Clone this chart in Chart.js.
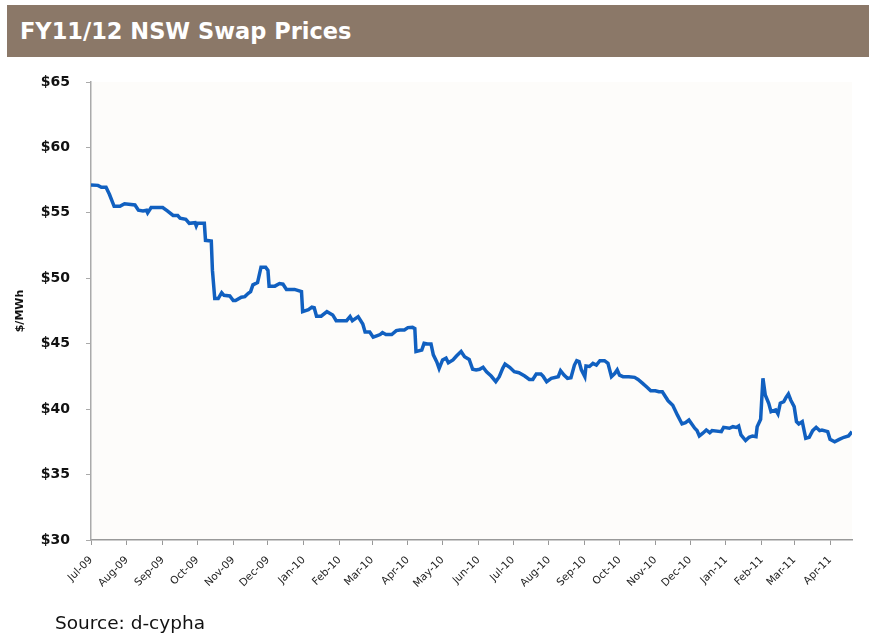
<!DOCTYPE html>
<html>
<head>
<meta charset="utf-8">
<title>FY11/12 NSW Swap Prices</title>
<script src="https://cdn.jsdelivr.net/npm/chart.js@4/dist/chart.umd.min.js"></script>
<style>
    body { margin: 0; background: #fff; }
    #wrap { position: relative; width: 869px; height: 636px; overflow: hidden; }
    #chartBox { position: absolute; left: 0; top: 0; width: 869px; height: 636px; }
    .header {
        position: absolute; left: 7px; top: 5px; width: 862px; height: 52px;
        background: rgb(139, 120, 104);
    }
    .header h1 {
        margin: 0; position: absolute; left: 13px; top: 13px;
        font: bold 22.5px "DejaVu Sans", Verdana, sans-serif; color: #fff;
    }
    .source {
        position: absolute; left: 55px; top: 612px;
        font: 18.5px "DejaVu Sans", Verdana, sans-serif; color: #111;
    }
</style>
</head>
<body>
<div id="wrap">
    <div id="chartBox"><canvas id="swapChart"></canvas></div>
    <div class="header"><h1>FY11/12 NSW Swap Prices</h1></div>
    <div class="source">Source: d-cypha</div>
</div>
<script>
// Days since 1 Jul 2009 and price in $/MWh
const days = [
    0, 6, 9, 13, 16, 20, 25, 29, 38, 41, 45, 48, 49, 52, 62, 66, 71, 75, 77, 82,
    85, 90, 91, 92, 98, 99, 104, 105, 107, 110, 113, 115, 120, 123, 125, 130, 133, 136, 138, 140,
    144, 147, 151, 153, 154, 159, 163, 166, 169, 176, 182, 183, 188, 191, 193, 195, 199, 204, 206, 209,
    212, 221, 224, 226, 231, 235, 237, 241, 244, 247, 250, 252, 255, 260, 264, 267, 271, 274, 278, 280,
    281, 286, 288, 291, 294, 296, 299, 301, 304, 307, 309, 313, 316, 320, 323, 327, 330, 333, 336, 339,
    342, 346, 350, 353, 356, 358, 362, 366, 370, 375, 379, 382, 385, 389, 391, 394, 398, 404, 406, 409,
    412, 415, 418, 420, 422, 424, 427, 428, 431, 434, 437, 440, 444, 447, 450, 453, 455, 457, 460, 465,
    470, 473, 477, 481, 484, 488, 491, 494, 499, 503, 507, 511, 514, 517, 519, 522, 524, 526, 529, 532,
    535, 537, 545, 547, 552, 555, 558, 560, 562, 566, 569, 572, 575, 576, 579, 581, 583, 586, 588, 592,
    594, 596, 599, 601, 603, 605, 608, 610, 612, 615, 618, 621, 624, 627, 630, 632, 637, 639, 643, 647,
    651, 655, 658
];
const prices = [
    57.13, 57.1, 56.95, 56.95, 56.4, 55.5, 55.5, 55.7, 55.6, 55.2, 55.15, 55.2, 55.0, 55.4, 55.4, 55.15, 54.8, 54.8, 54.6, 54.5,
    54.2, 54.25, 54.0, 54.2, 54.2, 52.9, 52.85, 50.6, 48.45, 48.45, 48.9, 48.7, 48.65, 48.3, 48.3, 48.55, 48.6, 48.85, 48.98, 49.5,
    49.67, 50.85, 50.85, 50.6, 49.4, 49.4, 49.6, 49.55, 49.15, 49.15, 48.98, 47.45, 47.6, 47.8, 47.75, 47.1, 47.1, 47.45, 47.35, 47.2,
    46.76, 46.76, 47.07, 46.76, 47.07, 46.5, 45.9, 45.9, 45.5, 45.6, 45.7, 45.85, 45.7, 45.7, 46.0, 46.05, 46.05, 46.23, 46.25, 46.15,
    44.4, 44.52, 45.03, 44.98, 44.98, 44.15, 43.6, 43.1, 43.76, 43.9, 43.55, 43.76, 44.06, 44.4, 44.0, 43.8, 43.05, 43.0, 43.05, 43.2,
    42.86, 42.53, 42.1, 42.48, 43.12, 43.45, 43.2, 42.86, 42.78, 42.53, 42.27, 42.27, 42.69, 42.69, 42.5, 42.1, 42.35, 42.48, 42.94, 42.6,
    42.35, 42.4, 43.37, 43.7, 43.63, 43.0, 42.48, 43.3, 43.26, 43.5, 43.37, 43.7, 43.7, 43.5, 42.48, 42.74, 43.0, 42.6, 42.48, 42.48,
    42.43, 42.27, 41.97, 41.66, 41.4, 41.4, 41.33, 41.33, 40.64, 40.3, 39.56, 38.87, 38.97, 39.17, 38.92, 38.54, 38.36, 37.95, 38.16, 38.41,
    38.2, 38.36, 38.28, 38.61, 38.54, 38.66, 38.6, 38.71, 38.03, 37.6, 37.85, 37.95, 37.9, 38.66, 39.22, 42.36, 41.08, 40.45, 39.81, 39.94,
    39.63, 40.45, 40.57, 40.9, 41.16, 40.7, 40.19, 39.05, 38.87, 39.05, 37.77, 37.85, 38.36, 38.61, 38.36, 38.4, 38.28, 37.69, 37.51, 37.69,
    37.85, 37.95, 38.28
];
const monthLabels = [
    'Jul-09', 'Aug-09', 'Sep-09', 'Oct-09', 'Nov-09', 'Dec-09', 'Jan-10', 'Feb-10', 'Mar-10', 'Apr-10', 'May-10',
    'Jun-10', 'Jul-10', 'Aug-10', 'Sep-10', 'Oct-10', 'Nov-10', 'Dec-10', 'Jan-11', 'Feb-11', 'Mar-11', 'Apr-11'
];
const yTicks = [30, 35, 40, 45, 50, 55, 60, 65];

document.addEventListener('DOMContentLoaded', function() {
    const start = Date.UTC(2009, 6, 1);
    // day offset of the first of each month
    const monthDays = monthLabels.map(function(label, i) {
        return (Date.UTC(2009, 6 + i, 1) - start) / 86400000;
    });

    const points = days.map(function(d, i) {
        return { x: d, y: prices[i] };
    });

    // Off-white plot area
    const plotBg = {
        id: 'plotBg',
        beforeDraw: function(chart) {
            const a = chart.chartArea;
            const ctx = chart.ctx;
            ctx.save();
            ctx.fillStyle = '#fdfcfa';
            ctx.fillRect(a.left, a.top, a.right - a.left, a.bottom - a.top);
            ctx.restore();
        }
    };

    new Chart(document.getElementById('swapChart'), {
        type: 'line',
        data: {
            datasets: [{
                label: 'NSW Swap',
                data: points,
                borderColor: '#1160c0',
                borderWidth: 3.5,
                pointRadius: 0,
                tension: 0,
                fill: false
            }]
        },
        options: {
            responsive: true,
            maintainAspectRatio: false,
            animation: false,
            layout: {
                padding: { left: 0, top: 82, right: 17, bottom: 0 }
            },
            plugins: {
                legend: { display: false },
                tooltip: { enabled: false }
            },
            scales: {
                x: {
                    type: 'linear',
                    min: 0,
                    max: days[days.length - 1],
                    afterBuildTicks: function(scale) {
                        scale.ticks = monthDays.map(function(v) { return { value: v }; });
                    },
                    afterFit: function(scale) {
                        scale.height = 96;
                    },
                    grid: {
                        drawOnChartArea: false,
                        drawTicks: true,
                        tickLength: 5,
                        color: '#999'
                    },
                    border: { color: '#999', width: 1.5 },
                    ticks: {
                        autoSkip: false,
                        minRotation: 45,
                        maxRotation: 45,
                        padding: 9,
                        color: '#222',
                        font: { family: '"DejaVu Sans", Verdana, sans-serif', size: 10.5 },
                        callback: function(value, index) {
                            return monthLabels[index];
                        }
                    }
                },
                y: {
                    min: yTicks[0],
                    max: yTicks[yTicks.length - 1],
                    afterBuildTicks: function(scale) {
                        scale.ticks = yTicks.map(function(v) { return { value: v }; });
                    },
                    afterFit: function(scale) {
                        scale.width = 91;
                    },
                    grid: {
                        drawOnChartArea: false,
                        drawTicks: true,
                        tickLength: 5,
                        color: '#aaa'
                    },
                    border: { color: '#aaa', width: 1.5 },
                    ticks: {
                        padding: 16,
                        color: '#111',
                        font: { family: '"DejaVu Sans", Verdana, sans-serif', size: 14, weight: 'bold' },
                        callback: function(value) {
                            return '$' + value;
                        }
                    },
                    title: {
                        display: true,
                        text: '$/MWh',
                        color: '#111',
                        padding: { top: 14, bottom: 0 },
                        font: { family: '"DejaVu Sans", Verdana, sans-serif', size: 11, weight: 'bold' }
                    }
                }
            }
        },
        plugins: [plotBg]
    });
});
</script>
</body>
</html>
